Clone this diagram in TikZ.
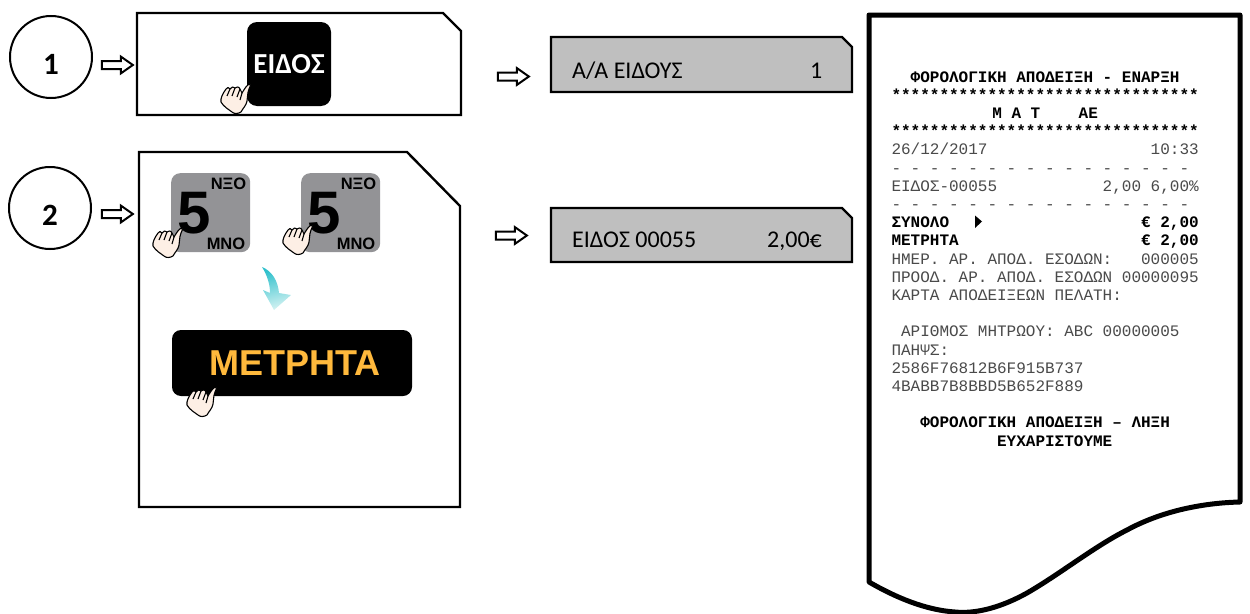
\documentclass[tikz,border=0pt]{standalone}
\usepackage{fontspec}
\setmainfont{Carlito}
\setmonofont{Liberation Mono}
\newfontfamily\arialfont{Liberation Sans}
\usetikzlibrary{shapes.arrows}
\definecolor{dispgray}{HTML}{BFBFBF}
\definecolor{keygray}{HTML}{939396}
\definecolor{amber}{HTML}{FFB93C}
\definecolor{skin}{HTML}{FDEFE5}
\definecolor{recgray}{HTML}{4A4A4A}
\definecolor{turntop}{HTML}{2FC0CC}
\definecolor{turnbot}{HTML}{D4F2F2}
\newcommand{\recspacing}{\spaceskip=9.6pt\relax\xspaceskip=9.6pt\relax}
\tikzset{%
  stepno/.style={draw, circle, line width=2pt, minimum size=82pt, inner sep=0pt},
  stepnum/.style={inner sep=0pt, font=\fontsize{31}{33}\selectfont\bfseries},
  hollow/.style={draw, single arrow, line width=2pt, minimum height=31pt, minimum width=0pt, text height=6pt, text depth=0pt, text width=0pt, single arrow head extend=4.4pt, single arrow head indent=0pt, single arrow tip angle=70, inner sep=0pt, outer sep=0pt},
  panel/.style={draw, line width=2.4pt, line join=miter},
  disp/.style={panel, fill=dispgray},
  disptext/.style={anchor=base west, inner sep=0pt, font=\fontsize{24}{26}\selectfont},
  keysq/.style={fill=keygray, rounded corners=9pt, minimum size=79pt, inner sep=0pt},
  keytag/.style={inner sep=0pt, font=\arialfont\fontsize{16.5}{18}\selectfont\bfseries},
  rline/.style={inner sep=0pt, text width=310pt, text height=11pt, text depth=3pt, color=recgray, font=\ttfamily\fontsize{16}{18}\selectfont, execute at begin node=\recspacing},
  rbold/.style={rline, color=black, font=\ttfamily\bfseries\fontsize{16}{18}\selectfont},
  hand/.pic={
    \draw[fill=skin, line width=1.1pt, line join=round] (0,0) .. controls (1,1) and (0,3) .. (-1,5)
      .. controls (-3,10) and (-2,13) .. (-3,17)
      .. controls (-4,22) and (-7,24) .. (-9,28)
      .. controls (-12,30) and (-16,30) .. (-18,28)
      .. controls (-22,25) and (-26,23) .. (-29,18)
      .. controls (-30,15) and (-27,9) .. (-24,5)
      .. controls (-23,3) and (-21,3) .. (-20,5)
      .. controls (-19,3) and (-16,2) .. (-15,4)
      .. controls (-14,3) and (-11,2) .. (-10,5)
      -- (-8,9) .. controls (-6,6) and (-3,0) .. (0,0);
    \draw[line width=1.1pt] (-20,5) -- (-23,12) (-15,4) -- (-18,12) (-10,5) -- (-13,13) (-8,9) -- (-10,16);
  },
}

\begin{document}
\begin{tikzpicture}[x=1pt, y=-1pt, node distance=18.2pt]
\useasboundingbox (0,0) rectangle (1250,613);
% steps
\node[stepno] (c1) at (51,57) {};
\node[stepnum] (n1) at (51,64) {1};
\node[stepno] (c2) at (50,208) {};
\node[stepnum] (n2) at (50,215) {2};
\draw[panel] (137,13) -- (443,13) -- (461,31) -- (461,115) -- (137,115) -- cycle;
\draw[panel] (139,152) -- (407,152) -- (460,206) -- (460,507) -- (139,507) -- cycle;
\node[hollow] (a1) at (114.5,65) {};
\node[hollow] (a2) at (114.5,214) {};
\node[hollow] (a3) at (510.5,76.5) {};
\node[hollow] (a4) at (508.5,235.5) {};
% displays
\draw[disp] (551,37) -- (842,37) -- (852,47) -- (852,92) -- (551,92) -- cycle;
\draw[disp] (551,208) -- (842,208) -- (852,218) -- (852,262) -- (551,262) -- cycle;
\node[disptext] (d1l) at (572,78) {Α/Α ΕΙΔΟΥΣ};
\node[disptext] (d1r) at (810,78) {1};
\node[disptext] (d2l) at (572,247) {ΕΙΔΟΣ 00055};
\node[disptext, anchor=base east] (d2r) at (822,247) {2,00€};
% keys
\node[fill=black, rounded corners=10pt, minimum size=84pt, inner sep=0pt, text=white, font=\fontsize{29}{31}\selectfont\bfseries] (eidos) at (289,64) {\raisebox{-1.5pt}{ΕΙΔΟΣ}};
\pic at (250,84) {hand};
\foreach \kx/\kn/\hx/\hy in {171/a/182/228, 301/b/312/225} {
  \node[keysq, anchor=north west] (key\kn) at (\kx,173) {};
  \node[inner sep=0pt, text=black, font=\arialfont\fontsize{60}{60}\selectfont\bfseries] (five\kn) at (\kx+23.5,213) {5};
  \node[keytag] (neo\kn) at (\kx+57.5,183.5) {ΝΞΟ};
  \node[keytag] (mno\kn) at (\kx+55,243.5) {ΜΝΟ};
  \pic at (\hx,\hy) {hand};
}
\shade[top color=turntop, bottom color=turnbot, shading angle=15] (262,267) .. controls (272,271) and (278,281) .. (279,293) -- (291,295) -- (274,310) -- (263,290) -- (270,293) .. controls (270,284) and (267,275) .. (262,267);
\node[fill=black, rounded corners=9pt, minimum width=240pt, minimum height=66pt, inner sep=0pt, text=amber, font=\arialfont\fontsize{36}{38}\selectfont\bfseries] (cash) at (292,363) {\hspace*{6pt}ΜΕΤΡΗΤΑ};
\pic at (216,387) {hand};
% receipt
\draw[line width=5pt, line join=round, fill=white] (869,15) -- (1240,15) -- (1240,502)
  .. controls (1200,503) and (1160,512) .. (1127,530)
  .. controls (1095,546) and (1060,574) .. (1027,593)
  .. controls (1000,608) and (975,614) .. (955,612)
  .. controls (925,610) and (895,597) .. (869,582) -- cycle;
\node[rbold] (r1) at (1046.5,78) {~~ΦΟΡΟΛΟΓΙΚΗ ΑΠΟΔΕΙΞΗ - ΕΝΑΡΞΗ};
\node[rbold] (r2) [below of=r1] {********************************};
\node[rbold] (r3) [below of=r2] {\hspace*{100.8pt}Μ Α Τ~~~~ΑΕ};
\node[rbold] (r4) [below of=r3] {********************************};
\node[rline] (r5) [below of=r4] {26/12/2017~~~~~~~~~~~~~~~~~10:33};
\node[rline] (r6) [below of=r5] {- - - - - - - - - - - - - - - -};
\node[rline] (r7) [below of=r6] {ΕΙΔΟΣ-00055~~~~~~~~~~~2,00 6,00\%};
\node[rline] (r8) [below of=r7] {- - - - - - - - - - - - - - - -};
\node[rbold] (r9) [below of=r8] {ΣΥΝΟΛΟ~~~~~~~~~~~~~~~~~~~~€ 2,00};
\node[rbold] (r10) [below of=r9] {ΜΕΤΡΗΤΑ~~~~~~~~~~~~~~~~~~~€ 2,00};
\node[rline] (r11) [below of=r10] {ΗΜΕΡ. ΑΡ. ΑΠΟΔ. ΕΣΟΔΩΝ:~~~000005};
\node[rline] (r12) [below of=r11] {ΠΡΟΟΔ. ΑΡ. ΑΠΟΔ. ΕΣΟΔΩΝ 00000095};
\node[rline] (r13) [below of=r12] {ΚΑΡΤΑ ΑΠΟΔΕΙΞΕΩΝ ΠΕΛΑΤΗ:};
\node[rline, node distance=36.4pt] (r14) [below of=r13] {~ΑΡΙΘΜΟΣ ΜΗΤΡΩΟΥ: ABC 00000005};
\node[rline] (r15) [below of=r14] {ΠΑΗΨΣ:};
\node[rline] (r16) [below of=r15] {2586F76812B6F915B737};
\node[rline] (r17) [below of=r16] {4BABB7B8BBD5B652F889};
\node[rbold, node distance=36.4pt] (r18) [below of=r17] {~~~ΦΟΡΟΛΟΓΙΚΗ ΑΠΟΔΕΙΞΗ – ΛΗΞΗ};
\node[rbold] (r19) [below of=r18] {~~~~~~~~~~~ΕΥΧΑΡΙΣΤΟΥΜΕ};
\fill (975,215.5) -- (982,221.5) -- (975,228) -- cycle;
\end{tikzpicture}
\end{document}
